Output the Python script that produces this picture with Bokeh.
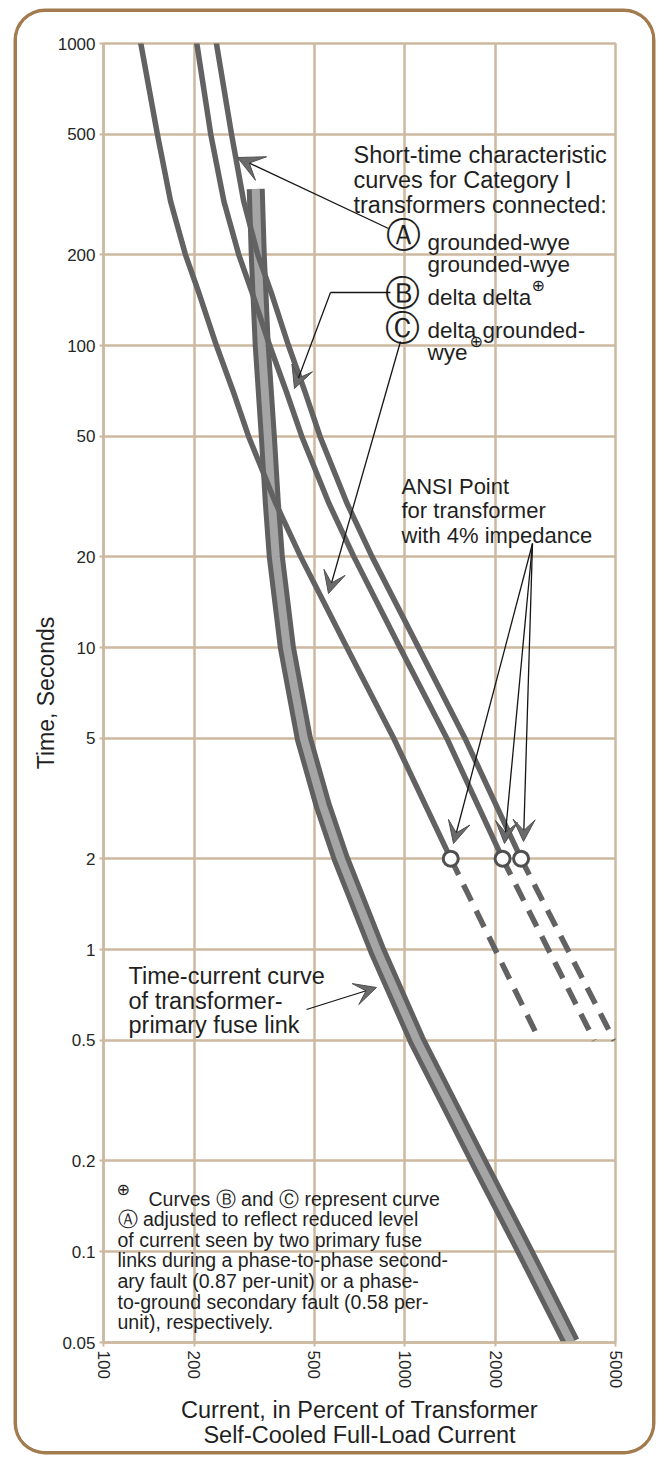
import math
from bokeh.plotting import figure
from bokeh.models import FixedTicker, Label, Arrow, VeeHead
from bokeh.embed import file_html
from bokeh.resources import INLINE

# ---------------- data ----------------
x_ticks = [100, 200, 500, 1000, 2000, 5000]
x_tick_labels = ["100", "200", "500", "1000", "2000", "5000"]
y_ticks = [0.05, 0.1, 0.2, 0.5, 1, 2, 5, 10, 20, 50, 100, 200, 500, 1000]
y_tick_labels = ["0.05", "0.1", "0.2", "0.5", "1", "2", "5", "10", "20", "50",
                 "100", "200", "500", "1000"]

# short-time characteristic curves (solid part), time in seconds
curve_time = [1000, 500, 300, 200, 150, 100, 70, 50, 30, 20, 10, 5, 2]
curve_a_current = [237, 266, 292, 325, 360, 411, 467, 523, 643, 778, 1110, 1584, 2430]
curve_b_current = [204, 227, 251, 281, 311, 356, 405, 455, 560, 677, 963, 1379, 2110]
curve_c_current = [133, 151, 167, 187, 207, 237, 270, 303, 373, 451, 642, 919, 1420]

# dashed extensions below the ANSI point
dash_time = [2, 0.5]
dash_a_current = [2430, 4950]
dash_b_current = [2110, 4250]
dash_c_current = [1420, 2800]

# ANSI points (4% impedance)
ansi_current = [1420, 2110, 2430]
ansi_time = [2, 2, 2]

# transformer-primary fuse link time-current band
fuse_time = [330, 200, 100, 50, 30, 20, 10, 5, 3, 2, 1, 0.5, 0.2, 0.1, 0.05]
fuse_current = [320, 325, 335, 351, 362, 373, 406, 462, 534, 613, 807, 1096, 1748, 2504, 3560]

# ---------------- figure ----------------
OFF_X, OFF_Y = 17, 12          # css margins of the figure inside the page
W, H = 635, 1439
ML, MR, MT, MB = 86, 37, 31, 109
X_MIN, X_MAX = 100, 5000
Y_MIN, Y_MAX = 0.05, 1000

GRID = "#ccb99f"
INK = "#1f1f1f"
CURVE = "#626262"
FONT = "Liberation Sans"

p = figure(width=W, height=H, x_axis_type="log", y_axis_type="log",
           x_range=(X_MIN, X_MAX), y_range=(Y_MIN, Y_MAX),
           output_backend="svg", toolbar_location=None,
           min_border_left=ML, min_border_right=MR,
           min_border_top=MT, min_border_bottom=MB)
p.background_fill_color = "white"
p.border_fill_color = "white"
p.outline_line_color = GRID
p.outline_line_width = 2.5
# rounded brown frame drawn around the figure element
p.styles = {"margin-left": f"{OFF_X}px", "margin-top": f"{OFF_Y}px",
            "border-radius": "28px", "overflow": "hidden",
            "box-shadow": "0 0 0 3.5px #a27c4f"}

# page-pixel -> data helpers (for annotation placement only)
FL, FR = OFF_X + ML, OFF_X + W - MR
FT, FB = OFF_Y + MT, OFF_Y + H - MB


def xd(px):
    return 10 ** (math.log10(X_MIN) + (px - FL) / (FR - FL) * math.log10(X_MAX / X_MIN))


def yd(py):
    return 10 ** (math.log10(Y_MAX) - (py - FT) / (FB - FT) * math.log10(Y_MAX / Y_MIN))


# axes
p.xaxis.ticker = FixedTicker(ticks=x_ticks)
p.yaxis.ticker = FixedTicker(ticks=y_ticks)
p.xaxis.major_label_overrides = {t: l for t, l in zip(x_ticks, x_tick_labels)}
p.yaxis.major_label_overrides = {t: l for t, l in zip(y_ticks, y_tick_labels)}
p.xaxis.major_label_orientation = "vertical"
for ax in (p.xaxis, p.yaxis):
    ax.axis_line_color = GRID
    ax.axis_line_width = 2.5
    ax.major_tick_line_color = GRID
    ax.major_tick_line_width = 2
    ax.major_tick_out = 4
    ax.major_tick_in = 0
    ax.minor_tick_line_color = None
    ax.major_label_text_font = FONT
    ax.major_label_text_font_size = "17px"
    ax.major_label_text_color = "#262626"
    ax.major_label_standoff = 4
    ax.axis_label_text_font = FONT
    ax.axis_label_text_font_style = "normal"
    ax.axis_label_text_color = INK
p.xaxis.axis_label = "Current, in Percent of Transformer\nSelf-Cooled Full-Load Current"
p.xaxis.axis_label_text_font_size = "23.5px"
p.xaxis.axis_label_text_line_height = 0.95
p.xaxis.axis_label_standoff = 6
p.yaxis.axis_label = "Time, Seconds"
p.yaxis.axis_label_text_font_size = "23px"
p.yaxis.axis_label_standoff = -4

p.grid.grid_line_color = GRID
p.grid.grid_line_width = 2.5

# ---------------- fuse band ----------------
p.line(fuse_current, fuse_time, line_color="#606060", line_width=18, line_join="round")
p.line(fuse_current, fuse_time, line_color="#a5a5a5", line_width=8, line_join="round")

# ---------------- curves ----------------
for cur in (curve_c_current, curve_b_current, curve_a_current):
    p.line(cur, curve_time, line_color=CURVE, line_width=5.5, line_cap="round", line_join="round")
for cur in (dash_c_current, dash_b_current, dash_a_current):
    p.line(cur, dash_time, line_color=CURVE, line_width=5.5, line_dash="18 11")

p.scatter(ansi_current, ansi_time, marker="circle", size=15, fill_color="white",
          line_color="#4f4f4f", line_width=3)

# ---------------- annotations ----------------


def label(px, py, text, size=23.5, align="left", baseline="alphabetic", color=INK, font=FONT):
    p.add_layout(Label(x=xd(px), y=yd(py), text=text, text_font=font,
                       text_font_size=f"{size}px", text_align=align,
                       text_baseline=baseline, text_color=color))


def arrow(a, b, head=True, size=22):
    end = VeeHead(size=size, fill_color="#6a6a6a", line_color="#505050", line_width=1) if head else None
    p.add_layout(Arrow(end=end, x_start=xd(a[0]), y_start=yd(a[1]),
                       x_end=xd(b[0]), y_end=yd(b[1]),
                       line_color="#151515", line_width=1.3))


label(353, 154, "Short-time characteristic")
label(353, 179, "curves for Category I")
label(353, 204, "transformers connected:")

CIRC = 35
label(403, 234, "Ⓐ", size=CIRC, align="center", baseline="middle", font="DejaVu Sans")
label(427, 242, "grounded-wye", size=22.5)
label(427, 264, "grounded-wye", size=22.5)
label(402, 292, "Ⓑ", size=CIRC, align="center", baseline="middle", font="DejaVu Sans")
label(427, 297, "delta delta", size=22.5)
label(531, 285, "⊕", size=16, baseline="middle", font="DejaVu Sans")
label(402, 327, "Ⓒ", size=CIRC, align="center", baseline="middle", font="DejaVu Sans")
label(427, 330, "delta grounded-", size=22.5)
label(427, 352, "wye", size=22.5)
label(469, 341, "⊕", size=16, baseline="middle", font="DejaVu Sans")

label(401, 486, "ANSI Point", size=22)
label(401, 510, "for transformer", size=22)
label(401, 535, "with 4% impedance", size=22)

label(128, 975, "Time-current curve")
label(128, 1000, "of transformer-")
label(128, 1024, "primary fuse link")

foot = [
    (148, 1198, "Curves Ⓑ and Ⓒ represent curve"),
    (117, 1218, "Ⓐ adjusted to reflect reduced level"),
    (117, 1239, "of current seen by two primary fuse"),
    (117, 1259, "links during a phase-to-phase second-"),
    (117, 1280, "ary fault (0.87 per-unit) or a phase-"),
    (117, 1301, "to-ground secondary fault (0.58 per-"),
    (117, 1321, "unit), respectively."),
]
for fx, fy, ft in foot:
    label(fx, fy, ft, size=19.5)
label(116, 1189, "⊕", size=16, baseline="middle", font="DejaVu Sans")

# arrows
arrow((388, 228), (237, 157), size=26)
arrow((390, 292), (330, 292), head=False)
arrow((330, 292), (294, 388))
arrow((400, 341), (328, 593))
arrow((532, 543), (453, 843))
arrow((532, 543), (504, 843))
arrow((532, 543), (523, 841))
arrow((306, 1009), (376, 987))

open("out.html", "w").write(file_html(p, INLINE))
